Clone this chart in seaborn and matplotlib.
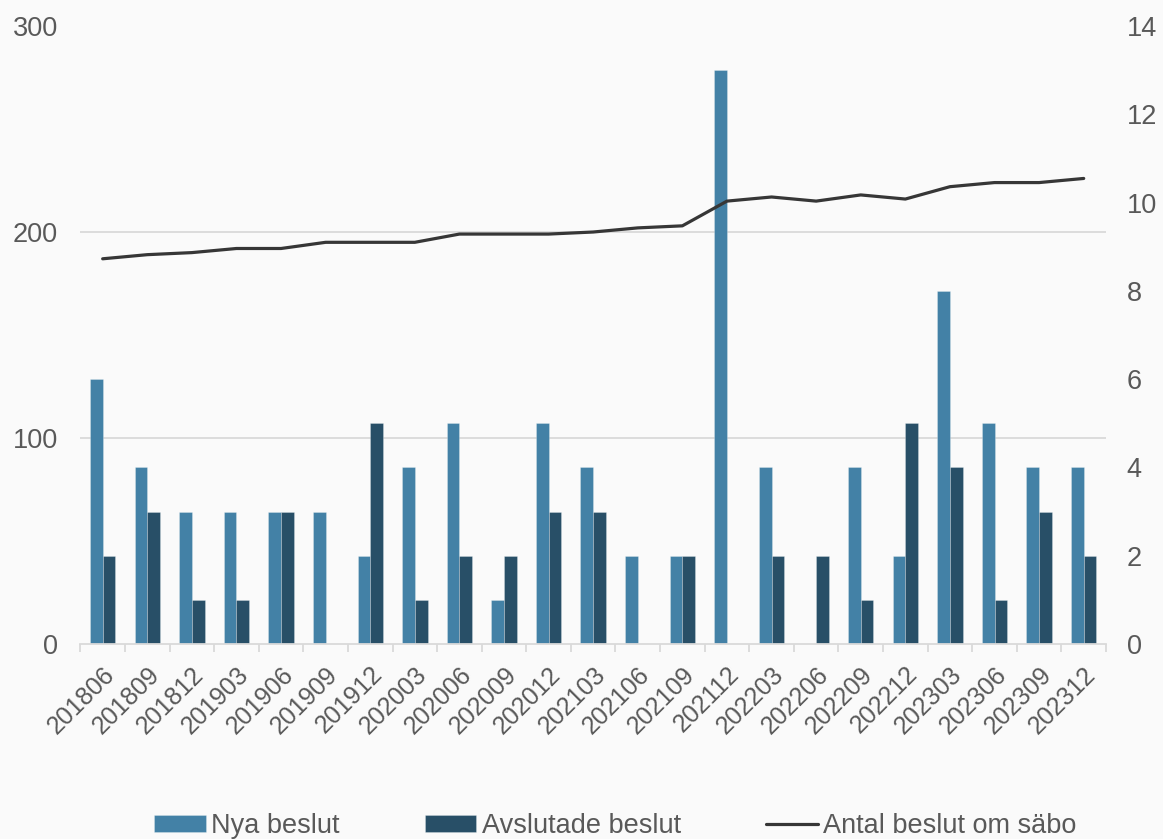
import numpy as np
import pandas as pd
import matplotlib
matplotlib.use("Agg")
import matplotlib.pyplot as plt
from matplotlib.ticker import FixedLocator
import seaborn as sns

# Quarterly periods
periods = ["201806", "201809", "201812", "201903", "201906", "201909", "201912",
           "202003", "202006", "202009", "202012", "202103", "202106", "202109",
           "202112", "202203", "202206", "202209", "202212", "202303", "202306",
           "202309", "202312"]

# New and ended decisions per quarter (right axis)
nya_beslut = [6, 4, 3, 3, 3, 3, 2, 4, 5, 1, 5, 4, 2, 2, 13, 4, 0, 4, 2, 8, 5, 4, 4]
avslutade_beslut = [2, 3, 1, 1, 3, 0, 5, 1, 2, 2, 3, 3, 0, 2, 0, 2, 2, 1, 5, 4, 1, 3, 2]

# Total number of decisions on special housing (left axis)
antal_sabo = [187, 189, 190, 192, 192, 195, 195, 195, 199, 199, 199, 200, 202, 203,
              215, 217, 215, 218, 216, 222, 224, 224, 226]

series_names = ["Nya beslut", "Avslutade beslut", "Antal beslut om säbo"]
colors = {"Nya beslut": "#4381a6", "Avslutade beslut": "#284f67"}
line_color = "#363636"
text_color = "#595959"
grid_color = "#d9d9d9"
bg = "#fafafa"
fs = 19.5
fs_x = 18

sns.set_theme(style="white")
plt.rcParams["font.family"] = ["Liberation Sans", "DejaVu Sans"]
plt.rcParams["font.size"] = fs

bars = pd.DataFrame({
    "period": periods * 2,
    "antal": nya_beslut + avslutade_beslut,
    "serie": [series_names[0]] * len(periods) + [series_names[1]] * len(periods),
})
line = pd.DataFrame({"period": periods, "antal": antal_sabo})

fig = plt.figure(figsize=(11.63, 8.39), dpi=100, facecolor=bg)
ax = fig.add_subplot(111)
fig.subplots_adjust(left=0.0691, right=0.951, top=0.969, bottom=0.2324)
ax.set_facecolor(bg)

# Bars on the primary axes, shown with the right-hand scale
sns.barplot(data=bars, x="period", y="antal", hue="serie", order=periods,
            hue_order=series_names[:2], palette=colors, width=0.57, gap=0,
            edgecolor=(1, 1, 1, 0.35), linewidth=0.5, saturation=1,
            legend=False, ax=ax)
ax.set_ylim(0, 14)
ax.set_yticks(np.arange(0, 15, 2))

# Horizontal gridlines follow the left-hand scale (0, 100, 200, 300)
ax.yaxis.set_minor_locator(FixedLocator(np.linspace(0, 14, 4)))
ax.grid(which="minor", axis="y", color=grid_color, linewidth=1.3)
ax.set_axisbelow(True)

# Line on a twin axes, shown with the left-hand scale
ax2 = ax.twinx()
sns.lineplot(data=line, x="period", y="antal", color=line_color, linewidth=2.3,
             sort=False, ax=ax2, label=series_names[2], legend=False)
ax2.set_ylim(0, 300)
ax2.set_yticks([0, 100, 200, 300])

# Swap sides: bar scale on the right, line scale on the left
ax.yaxis.tick_right()
ax.yaxis.set_label_position("right")
ax2.yaxis.tick_left()
ax2.yaxis.set_label_position("left")

ax.set_xlim(-0.5, len(periods) - 0.5)
ax.set_xticks(range(len(periods)))
ax.set_xticklabels(periods, rotation=45, ha="right", rotation_mode="anchor")
ax.xaxis.set_minor_locator(FixedLocator(np.arange(-0.5, len(periods), 1.0)))
ax.tick_params(axis="x", which="major", length=0, pad=13, labelsize=fs_x,
               labelcolor=text_color)
ax.tick_params(axis="x", which="minor", length=6, width=1.3, color=grid_color,
               direction="out", bottom=True)
ax.tick_params(axis="y", which="both", length=0, pad=15, labelsize=fs,
               labelcolor=text_color, left=False, right=False,
               labelleft=False, labelright=True)
ax2.tick_params(axis="y", length=0, pad=16, labelsize=fs, labelcolor=text_color,
                labelleft=True, labelright=False)

for a in (ax, ax2):
    a.set_xlabel("")
    a.set_ylabel("")
    for side in ("top", "left", "right", "bottom"):
        a.spines[side].set_visible(False)
ax.spines["bottom"].set_visible(True)
ax.spines["bottom"].set_color(grid_color)
ax.spines["bottom"].set_linewidth(1.3)

handles = [ax.containers[0], ax.containers[1], ax2.get_lines()[0]]
fig.legend(handles, series_names, loc="center", bbox_to_anchor=(0.529, 0.0155),
           ncol=3, frameon=False, fontsize=fs, labelcolor=text_color,
           handlelength=1.9, handleheight=0.55, handletextpad=0.2,
           columnspacing=3.15)

fig.savefig("out.png", dpi=100, facecolor=bg)
